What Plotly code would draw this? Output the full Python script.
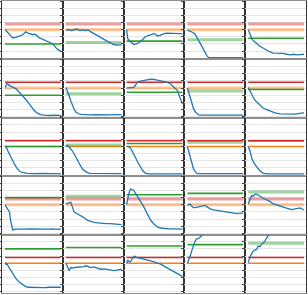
import plotly.graph_objects as go

# ---------------- data ----------------
RED_LEVEL = [1.2, 1.2, 1.2, 1.2, 1.2,
             1.2, 1.2, 1.2, 1.2, 1.2,
             1.2, 1.2, 1.2, 1.2, 1.2,
             1.2, 1.2, 1.2, 1.2, 1.2,
             1.2, 1.2, 1.2, 1.2, 1.2]
ORANGE_LEVEL = [1.0, 1.0, 1.0, 1.0, 1.0,
                1.0, 1.0, 1.0, 1.0, 1.0,
                1.0, 1.0, 1.0, 1.0, 1.0,
                1.0, 1.0, 1.0, 1.0, 1.0,
                1.0, 1.0, 1.0, 1.0, 1.0]
GREEN_LEVEL = [0.50, 0.55, 0.60, 0.65, 0.70,
               0.75, 0.80, 0.85, 0.90, 0.95,
               1.00, 1.05, 1.10, 1.15, 1.20,
               1.25, 1.30, 1.35, 1.40, 1.45,
               1.50, 1.55, 1.60, 1.65, 1.70]
LEVEL_X = [0, 100]

BLUE_X = [
    [0, 5, 10, 14, 20, 26, 32, 37, 42, 49, 55, 61, 66, 70, 76, 82, 86, 91, 95, 100],
    [0, 5, 10, 15, 20, 25, 30, 35, 40, 45, 50, 57, 65, 74, 80, 86, 92, 100],
    [0, 1, 2, 5, 9, 13, 17, 22, 27, 34, 40, 45, 49, 52, 55, 60, 64, 67, 72, 79, 85, 90, 95, 100],
    [0, 5, 10, 14, 18, 23, 27, 32, 35, 38, 45, 55, 65, 75, 85, 95, 100],
    [0, 2, 4, 7, 10, 14, 18, 21, 27, 33, 39, 45, 51, 57, 63, 69, 75, 81, 87, 93, 100],
    [0, 2, 4, 7, 11, 15, 20, 25, 29, 35, 41, 46, 52, 58, 64, 70, 76, 82, 88, 94, 100],
    [0, 3, 6, 9, 12, 15, 18, 22, 27, 35, 45, 55, 65, 75, 85, 95, 100],
    [0, 5, 10, 13, 16, 19, 25, 31, 37, 43, 49, 55, 61, 67, 73, 79, 84, 88, 91, 95, 100],
    [0, 3, 5, 8, 11, 14, 17, 20, 25, 35, 50, 65, 80, 90, 100],
    [0, 3, 7, 11, 16, 21, 26, 31, 36, 42, 48, 57, 65, 75, 85, 95, 100],
    [0, 2, 5, 8, 12, 17, 21, 26, 31, 36, 40, 50, 60, 70, 80, 90, 100],
    [0, 3, 6, 9, 12, 16, 21, 25, 30, 35, 42, 50, 60, 70, 80, 90, 100],
    [0, 3, 7, 10, 13, 16, 19, 22, 25, 29, 34, 40, 50, 60, 70, 80, 90, 100],
    [0, 2, 5, 8, 11, 14, 17, 22, 30, 45, 60, 75, 90, 100],
    [0, 3, 7, 11, 16, 21, 27, 35, 50, 65, 80, 100],
    [0, 3, 5, 8, 10, 12, 14, 18, 25, 35, 45, 55, 65, 75, 85, 95, 100],
    [0, 3, 6, 9, 11, 13, 15, 20, 27, 33, 39, 45, 51, 57, 65, 73, 80, 88, 95, 100],
    [0, 2, 4, 7, 10, 13, 16, 19, 25, 31, 37, 43, 49, 55, 61, 67, 75, 85, 95, 100],
    [0, 3, 5, 8, 11, 14, 18, 23, 28, 32, 36, 41, 47, 53, 59, 65, 71, 77, 83, 89, 95, 100],
    [0, 2, 4, 6, 9, 13, 17, 21, 27, 33, 39, 45, 51, 57, 63, 70, 78, 85, 93, 100],
    [0, 2, 3, 5, 8, 11, 15, 20, 25, 29, 35, 41, 50, 60, 70, 80, 90, 100],
    [0, 3, 6, 9, 14, 20, 27, 32, 36, 40, 45, 50, 56, 63, 69, 75, 80, 86, 92, 98, 100],
    [0, 2, 4, 7, 10, 14, 18, 25, 31, 37, 43, 49, 55, 61, 67, 73, 79, 85, 91, 97, 100],
    [0, 3, 5, 8, 11, 14, 17, 21, 26, 30, 40, 55, 75, 100],
    [0, 2, 4, 7, 9, 12, 15, 18, 21, 24, 27, 30, 33, 36, 45, 60, 80, 100],
]
BLUE_Y = [
    [1.0, 0.90, 0.78, 0.71, 0.74, 0.78, 0.82, 0.92, 0.87, 0.83, 0.83, 0.72, 0.68, 0.62, 0.58, 0.54, 0.50, 0.37, 0.30, 0.25],
    [0.98, 1.0, 0.97, 0.99, 1.02, 0.97, 0.99, 0.97, 0.99, 0.92, 0.86, 0.78, 0.70, 0.60, 0.54, 0.48, 0.46, 0.47],
    [1.0, 0.85, 0.68, 0.62, 0.55, 0.48, 0.50, 0.54, 0.62, 0.76, 0.80, 0.82, 0.86, 0.84, 0.78, 0.80, 0.84, 0.86, 0.88, 0.88, 0.88, 0.87, 0.86, 0.85],
    [0.98, 0.95, 0.90, 0.83, 0.70, 0.54, 0.38, 0.19, 0.08, 0.03, 0.02, 0.02, 0.02, 0.02, 0.02, 0.02, 0.02],
    [1.0, 0.90, 0.78, 0.66, 0.60, 0.55, 0.47, 0.42, 0.35, 0.27, 0.22, 0.18, 0.18, 0.19, 0.17, 0.14, 0.12, 0.14, 0.12, 0.13, 0.14],
    [1.02, 1.10, 1.17, 1.10, 1.06, 1.03, 0.97, 0.86, 0.79, 0.65, 0.51, 0.38, 0.22, 0.12, 0.07, 0.05, 0.04, 0.04, 0.05, 0.04, 0.04],
    [1.02, 0.90, 0.73, 0.55, 0.39, 0.26, 0.16, 0.11, 0.08, 0.06, 0.06, 0.07, 0.06, 0.06, 0.07, 0.06, 0.07],
    [1.0, 1.0, 1.0, 1.02, 1.10, 1.20, 1.24, 1.27, 1.30, 1.31, 1.30, 1.28, 1.25, 1.24, 1.20, 1.14, 1.05, 0.97, 0.91, 0.70, 0.45],
    [1.0, 0.80, 0.62, 0.45, 0.28, 0.17, 0.10, 0.06, 0.05, 0.05, 0.05, 0.05, 0.05, 0.06, 0.05],
    [1.02, 0.90, 0.73, 0.60, 0.50, 0.39, 0.31, 0.26, 0.22, 0.17, 0.13, 0.10, 0.09, 0.08, 0.09, 0.12, 0.13],
    [1.0, 0.98, 0.85, 0.72, 0.55, 0.38, 0.25, 0.13, 0.09, 0.07, 0.06, 0.05, 0.06, 0.06, 0.05, 0.06, 0.05],
    [1.0, 1.04, 0.98, 0.92, 0.84, 0.70, 0.49, 0.37, 0.21, 0.13, 0.06, 0.06, 0.05, 0.06, 0.05, 0.06, 0.05],
    [1.0, 0.99, 0.95, 0.85, 0.72, 0.61, 0.48, 0.37, 0.27, 0.15, 0.06, 0.04, 0.04, 0.04, 0.04, 0.04, 0.04, 0.04],
    [0.99, 0.85, 0.55, 0.35, 0.21, 0.12, 0.06, 0.05, 0.05, 0.05, 0.05, 0.05, 0.05, 0.05],
    [1.0, 0.85, 0.55, 0.40, 0.27, 0.15, 0.06, 0.04, 0.04, 0.04, 0.04, 0.04],
    [1.0, 0.92, 0.86, 0.75, 0.45, 0.20, 0.12, 0.15, 0.16, 0.15, 0.16, 0.15, 0.16, 0.15, 0.16, 0.14, 0.16],
    [1.03, 1.06, 1.07, 1.09, 1.0, 0.85, 0.75, 0.70, 0.63, 0.55, 0.46, 0.42, 0.39, 0.37, 0.35, 0.34, 0.34, 0.33, 0.31, 0.31],
    [1.01, 1.20, 1.40, 1.55, 1.52, 1.50, 1.40, 1.32, 1.12, 0.92, 0.70, 0.46, 0.33, 0.23, 0.19, 0.17, 0.16, 0.16, 0.15, 0.15],
    [0.98, 1.0, 1.03, 0.95, 0.90, 0.90, 0.92, 0.94, 0.96, 0.98, 0.92, 0.86, 0.82, 0.80, 0.77, 0.75, 0.73, 0.72, 0.70, 0.69, 0.71, 0.71],
    [1.03, 1.15, 1.25, 1.32, 1.30, 1.38, 1.35, 1.29, 1.23, 1.17, 1.12, 1.03, 1.0, 0.96, 0.92, 0.88, 0.83, 0.85, 0.89, 0.82],
    [1.02, 0.95, 1.0, 0.92, 0.82, 0.74, 0.60, 0.45, 0.35, 0.28, 0.21, 0.16, 0.15, 0.16, 0.15, 0.16, 0.15, 0.16],
    [1.02, 0.90, 0.74, 0.85, 0.84, 0.86, 0.87, 0.88, 0.91, 0.88, 0.85, 0.87, 0.84, 0.79, 0.80, 0.77, 0.76, 0.74, 0.76, 0.79, 0.79],
    [1.0, 1.11, 1.06, 1.05, 1.15, 1.25, 1.20, 1.16, 1.14, 1.11, 1.08, 1.05, 1.01, 0.97, 0.90, 0.83, 0.77, 0.70, 0.64, 0.57, 0.54],
    [1.0, 1.12, 1.25, 1.45, 1.66, 1.78, 1.85, 1.88, 1.97, 2.10, 2.40, 2.80, 3.30, 3.90],
    [1.02, 1.15, 1.25, 1.36, 1.42, 1.46, 1.48, 1.60, 1.58, 1.66, 1.70, 1.77, 1.88, 2.0, 2.30, 2.70, 3.20, 3.60],
]

# ---------------- styles (1 = faded wide, 0 = solid thin) ----------------
RED_FADED = [1, 1, 1, 1, 1,
             0, 0, 0, 0, 0,
             0, 0, 0, 0, 0,
             1, 1, 1, 1, 1,
             0, 0, 0, 0, 0]
ORANGE_FADED = [1, 1, 1, 1, 1,
                1, 1, 1, 1, 1,
                0, 0, 0, 0, 0,
                1, 1, 1, 1, 1,
                0, 0, 0, 0, 0]
GREEN_FADED = [0, 1, 0, 1, 0,
               0, 1, 0, 1, 0,
               0, 1, 0, 1, 0,
               0, 1, 0, 0, 1,
               0, 0, 0, 0, 1]

RED = "#d62728"
ORANGE = "#ff7f0e"
GREEN = "#2ca02c"
BLUE = "#1f77b4"

fig = go.Figure()
NR, NC = 5, 5


def level_trace(level, color, faded, xa, ya):
    return go.Scatter(
        x=LEVEL_X, y=[level, level], mode="lines",
        line=dict(color=color, width=3 if faded else 1.6),
        opacity=0.45 if faded else 1.0,
        xaxis=xa, yaxis=ya, showlegend=False, hoverinfo="skip")


layout_axes = {}
for i in range(NR * NC):
    r, c = divmod(i, NC)
    sfx = "" if i == 0 else str(i + 1)
    xa, ya = "x" + sfx, "y" + sfx
    fig.add_trace(level_trace(ORANGE_LEVEL[i], ORANGE, ORANGE_FADED[i], xa, ya))
    fig.add_trace(level_trace(GREEN_LEVEL[i], GREEN, GREEN_FADED[i], xa, ya))
    fig.add_trace(level_trace(RED_LEVEL[i], RED, RED_FADED[i], xa, ya))
    fig.add_trace(go.Scatter(
        x=BLUE_X[i], y=BLUE_Y[i], mode="lines",
        line=dict(color=BLUE, width=1.3),
        xaxis=xa, yaxis=ya, showlegend=False, hoverinfo="skip"))
    layout_axes["xaxis" + sfx] = dict(
        domain=[c / NC, (c + 1) / NC], anchor=ya, range=[-5.4, 103.6],
        showgrid=False, zeroline=False, showticklabels=False, ticks="",
        showline=True, linecolor="#8f8f8f", linewidth=1, mirror=True)
    layout_axes["yaxis" + sfx] = dict(
        domain=[1 - (r + 1) / NR, 1 - r / NR], anchor=xa, range=[-0.04, 2],
        dtick=0.25, tick0=0, showgrid=True, gridcolor="#e6e6e6", gridwidth=1,
        zeroline=False, showticklabels=False, ticks="outside", ticklen=2,
        tickwidth=1, tickcolor="#444",
        showline=True, linecolor="#333", linewidth=1, mirror=True)

fig.update_layout(
    width=308, height=295,
    margin=dict(l=2, r=2, t=1, b=2),
    paper_bgcolor="white", plot_bgcolor="white",
    showlegend=False,
    **layout_axes)

fig.write_html("out.html",
               config={"displayModeBar": False},
               post_script="document.body.style.margin='0';document.body.style.padding='0';")
